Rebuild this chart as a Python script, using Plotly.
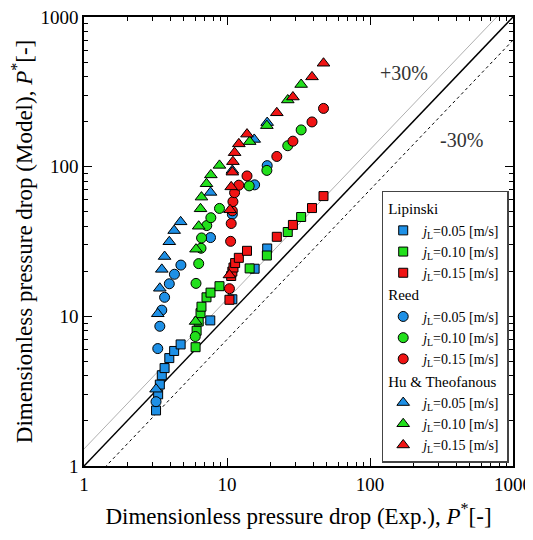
import numpy as np
import plotly.graph_objects as go

# Lipinski (squares)
lip_x_005 = [3.19, 3.30, 3.39, 3.50, 3.66, 3.95, 4.27, 4.74, 7.64, 10.9, 15.6, 19.1]
lip_y_005 = [2.35, 3.01, 3.50, 4.04, 4.51, 5.26, 5.87, 6.49, 9.39, 13.0, 20.8, 28.4]
lip_x_010 = [6.03, 6.13, 6.34, 6.53, 6.63, 7.19, 7.67, 8.86, 14.4, 19.0, 26.6, 33.0]
lip_y_010 = [6.22, 8.01, 9.24, 10.5, 11.6, 13.4, 14.4, 15.9, 20.9, 25.5, 36.6, 46.1]
lip_x_015 = [10.4, 10.7, 10.9, 11.1, 11.4, 12.1, 13.8, 22.3, 28.9, 39.3, 47.3]
lip_y_015 = [12.9, 18.6, 19.9, 21.2, 22.7, 24.6, 27.4, 34.0, 40.8, 52.9, 63.6]

# Reed (circles)
reed_x_005 = [3.19, 3.28, 3.39, 3.50, 3.66, 3.95, 4.29, 4.76, 7.67, 10.9, 15.6, 19.1]
reed_y_005 = [2.69, 6.09, 8.58, 11.0, 13.4, 16.5, 19.1, 22.0, 33.6, 48.1, 75.6, 101.6]
reed_x_010 = [6.00, 6.07, 6.34, 6.58, 6.64, 7.22, 7.71, 8.86, 14.3, 19.0, 26.6, 33.0]
reed_y_010 = [7.33, 16.6, 22.5, 28.5, 33.4, 40.4, 45.6, 52.6, 74.4, 94.4, 138, 176]
reed_x_015 = [10.4, 10.6, 10.7, 10.9, 11.0, 11.3, 12.1, 13.8, 22.3, 28.9, 39.3, 47.3]
reed_y_015 = [15.3, 31.7, 41.7, 50.7, 58.4, 67.0, 75.2, 86.7, 117, 148, 199, 245]

# Hu & Theofanous (triangles)
hu_x_005 = [3.19, 3.28, 3.39, 3.50, 3.66, 3.95, 4.27, 4.74, 7.67, 10.9, 15.5, 19.1]
hu_y_005 = [3.26, 10.4, 15.4, 20.6, 25.1, 31.5, 37.4, 42.8, 67.3, 94.4, 152, 197]
hu_x_010 = [6.03, 6.07, 6.34, 6.53, 6.63, 7.19, 7.71, 8.86, 14.4, 19.0, 26.6, 33.0]
hu_y_010 = [9.24, 28.1, 40.0, 52.3, 62.6, 76.9, 88.1, 102, 147, 188, 279, 354]
hu_x_015 = [10.4, 10.5, 10.7, 10.9, 11.0, 11.3, 12.1, 13.8, 22.3, 28.9, 39.3, 47.3]
hu_y_015 = [18.9, 51.5, 73.3, 91.9, 108, 124, 142, 165, 229, 292, 398, 491]

line_x = [1, 1000]
tick_vals = [1, 10, 100, 1000]
tick_text = ["1", "10", "100", "1000"]

BLUE = "#1e90e6"
GREEN = "#22e01c"
RED = "#f01414"
FONT = "Liberation Serif"

fig = go.Figure()

# reference lines: 1:1, +30 %, -30 %
fig.add_trace(go.Scatter(x=line_x, y=[v * 1.3 for v in line_x], mode="lines",
                         line=dict(color="#b0b0b0", width=1), showlegend=False))
fig.add_trace(go.Scatter(x=line_x, y=line_x, mode="lines",
                         line=dict(color="black", width=1.5), showlegend=False))
fig.add_trace(go.Scatter(x=line_x, y=[v * 0.7 for v in line_x], mode="lines",
                         line=dict(color="black", width=1, dash="dot"), showlegend=False))

groups = [
    ("lip", "Lipinski", "square", 9,
     [(lip_x_005, lip_y_005, BLUE, "0.05"), (lip_x_010, lip_y_010, GREEN, "0.10"),
      (lip_x_015, lip_y_015, RED, "0.15")]),
    ("reed", "Reed", "circle", 10,
     [(reed_x_005, reed_y_005, BLUE, "0.05"), (reed_x_010, reed_y_010, GREEN, "0.10"),
      (reed_x_015, reed_y_015, RED, "0.15")]),
    ("hu", "Hu &amp; Theofanous", "triangle-up", 11,
     [(hu_x_005, hu_y_005, BLUE, "0.05"), (hu_x_010, hu_y_010, GREEN, "0.10"),
      (hu_x_015, hu_y_015, RED, "0.15")]),
]

for gid, gtitle, sym, size, series in groups:
    for i, (xs, ys, col, jl) in enumerate(series):
        fig.add_trace(go.Scatter(
            x=xs, y=ys, mode="markers",
            marker=dict(symbol=sym, size=size, color=col, line=dict(color="black", width=1)),
            name="<i>j</i><sub>L</sub>=" + jl + " [m/s]",
            legendgroup=gid,
            legendgrouptitle=dict(text=gtitle, font=dict(family=FONT, size=15, color="black")) if i == 0 else None,
        ))

axis_common = dict(
    type="log", tickvals=tick_vals, ticktext=tick_text, automargin=False,
    ticklabeloverflow="allow",
    ticks="inside", ticklen=8, tickwidth=1, tickcolor="black",
    minor=dict(ticks="inside", ticklen=4, tickcolor="black", dtick="D1", showgrid=False),
    showline=True, linecolor="black", linewidth=1.5, mirror="ticks",
    showgrid=False, zeroline=False,
    tickfont=dict(family=FONT, size=19, color="black"),
)

fig.update_xaxes(range=[0, 3], **axis_common,
                 title=dict(text="Dimensionless pressure drop (Exp.), <i>P</i><sup>*</sup>[-]",
                            font=dict(family=FONT, size=23, color="black"), standoff=14))
fig.update_yaxes(range=[0, 3], **axis_common,
                 title=dict(text="Dimensionless pressure drop (Model), <i>P</i><sup>*</sup>[-]",
                            font=dict(family=FONT, size=23, color="black"), standoff=8))

fig.add_annotation(x=0.745, y=0.875, xref="paper", yref="paper", text="+30%", showarrow=False,
                   xanchor="center", yanchor="middle",
                   font=dict(family=FONT, size=20, color="#333333"))
fig.add_annotation(x=0.881, y=0.727, xref="paper", yref="paper", text="-30%", showarrow=False,
                   xanchor="center", yanchor="middle",
                   font=dict(family=FONT, size=20, color="#333333"))

# page body adds an 8px margin, so the figure is a bit smaller than the window
fig.update_layout(
    width=525, height=524,
    margin=dict(l=76, r=20, t=9, b=66),
    paper_bgcolor="white", plot_bgcolor="white",
    font=dict(family=FONT, size=15, color="black"),
    legend=dict(x=0.99, y=0.613, xanchor="right", yanchor="top",
                bordercolor="#444444", borderwidth=1.5, bgcolor="white",
                tracegroupgap=0, itemwidth=30,
                font=dict(family=FONT, size=14, color="black")),
)

fig.write_html("out.html")
